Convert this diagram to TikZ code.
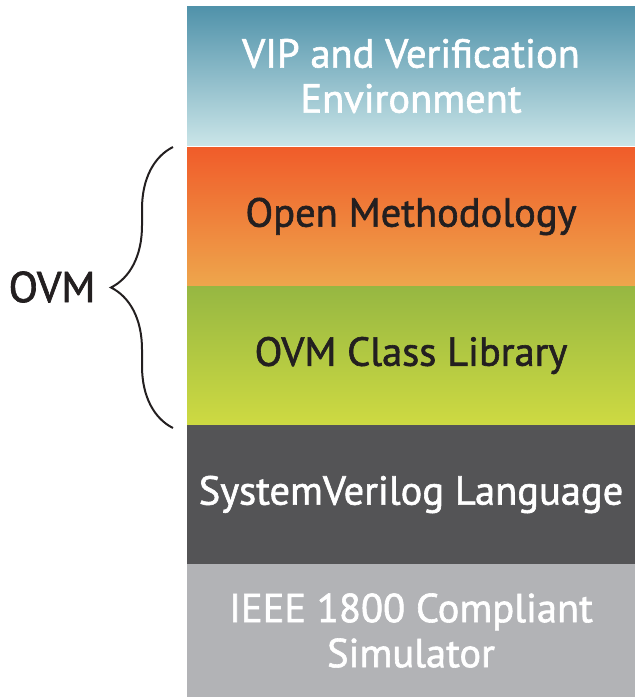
\documentclass[tikz,border=0pt]{standalone}
\usepackage{fontspec}
\setmainfont{PT Sans}
\newfontfamily\stackfont[RawFeature={embolden=1.5}]{PT Sans}
\usetikzlibrary{decorations.pathreplacing}

\definecolor{vipTop}{RGB}{80,146,170}
\definecolor{vipBot}{RGB}{202,229,232}
\definecolor{omTop}{RGB}{240,92,42}
\definecolor{omBot}{RGB}{238,166,76}
\definecolor{libTop}{RGB}{150,183,66}
\definecolor{libBot}{RGB}{206,218,66}
\definecolor{svGray}{RGB}{84,84,86}
\definecolor{simGray}{RGB}{178,179,182}
\definecolor{inkDark}{RGB}{35,31,32}

\begin{document}
\begin{tikzpicture}[
    x=1pt, y=-1pt,
    layer/.style={minimum width=448pt, minimum height=139pt, inner sep=0pt,
                  align=center, font=\stackfont\fontsize{40.5}{45}\selectfont},
    bracket/.style={decorate, decoration={brace, amplitude=62pt},
                    line width=2pt, inkDark}
  ]
  \useasboundingbox (0,0) rectangle (635,697);

  % stack of layers, top to bottom
  \node[layer, top color=vipTop, bottom color=vipBot, text=white]
    (vip) at (411,76) {VIP and Verification\\Environment};
  \node[layer, top color=omTop, bottom color=omBot, text=inkDark]
    (openm) at (411,216.5) {Open Methodology};
  \node[layer, top color=libTop, bottom color=libBot, text=inkDark]
    (classlib) at (411,355.5) {OVM Class Library};
  \node[layer, fill=svGray, text=white]
    (svlang) at (411,494.5) {SystemVerilog Language};
  \node[layer, fill=simGray, text=white, minimum height=133pt]
    (simulator) at (411,630.5) {IEEE 1800 Compliant\\Simulator};

  % OVM bracket
  \coordinate (bracetop) at (173,147);
  \coordinate (bracebot) at (173,428);
  \draw[bracket] (bracebot) -- (bracetop);
  \node[font=\stackfont\fontsize{43}{48}\selectfont, text=inkDark]
    (ovm) at (52,287) {OVM};
\end{tikzpicture}
\end{document}
